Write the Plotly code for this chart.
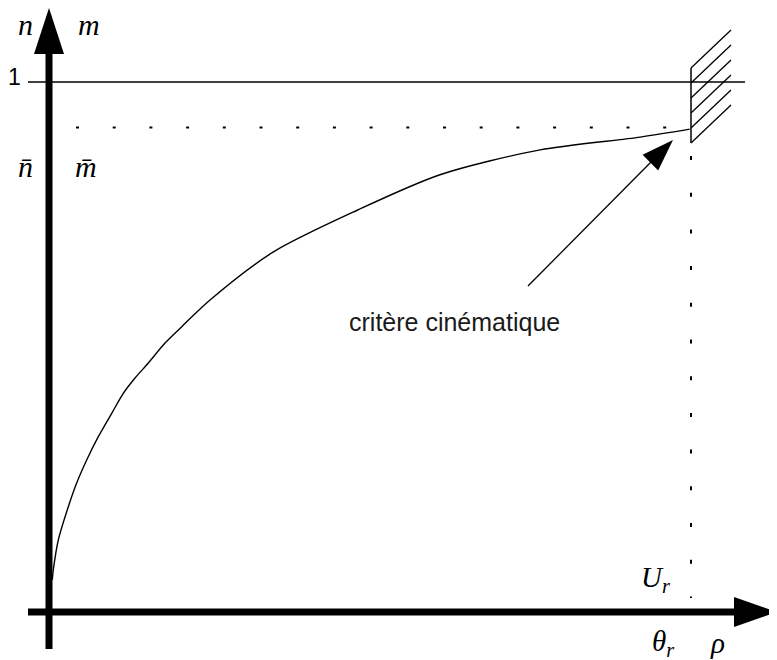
import plotly.graph_objects as go

# curve: criterion in normalised units (theta / theta_r, n)
theta = [0.0051, 0.0067, 0.0145, 0.0301, 0.0431, 0.0587, 0.0768, 0.0977, 0.1157,
         0.1340, 0.1547, 0.1807, 0.2067, 0.2508, 0.349, 0.480, 0.609, 0.765,
         0.921, 0.998]
n_curve = [0.0604, 0.0792, 0.1358, 0.1987, 0.2434, 0.2868, 0.3308, 0.3749, 0.4126,
           0.4415, 0.4698, 0.5075, 0.5383, 0.5887, 0.679, 0.758, 0.825, 0.872,
           0.896, 0.911]

n_bar = 0.914
theta_r = 1.0
label_text = 'critère cinématique'

# pixel scale of one unit on each axis
PX_X = 642.0
PX_Y = 530.0
# the page body adds 8px around the figure
PAGE = 8


def px(dx, dy):
    return dx / PX_X, dy / PX_Y


def head_path(tip_x, tip_y, ux, uy, length, width):
    # ux, uy : unit direction in pixels (y up)
    bx, by = tip_x - px(ux * length, 0)[0], tip_y - px(0, uy * length)[1]
    wx, wy = px(-uy * width / 2, ux * width / 2)
    return (f"M {tip_x} {tip_y} L {bx + wx} {by + wy} "
            f"L {bx - wx} {by - wy} Z")


fig = go.Figure()

fig.add_trace(go.Scatter(x=theta, y=n_curve, mode='lines', line_shape='spline',
                         line=dict(color='black', width=1.4, smoothing=0.8),
                         hoverinfo='skip'))

shapes = []
black = 'black'

# axes
x_lo, x_hi = px(-21, 0)[0], px(686, 0)[0]
y_lo, y_hi = px(0, -37)[1], px(0, 559)[1]
shapes.append(dict(type='line', x0=x_lo, x1=x_hi, y0=0, y1=0,
                   line=dict(color=black, width=7)))
shapes.append(dict(type='line', x0=0, x1=0, y0=y_lo, y1=y_hi,
                   line=dict(color=black, width=7)))
shapes.append(dict(type='path', path=head_path(px(728, 0)[0], 0, 1, 0, 43, 30),
                   fillcolor=black, line=dict(width=0)))
shapes.append(dict(type='path', path=head_path(0, px(0, 604)[1], 0, 1, 46, 30),
                   fillcolor=black, line=dict(width=0)))

# level 1
shapes.append(dict(type='line', x0=x_lo, x1=px(696, 0)[0], y0=1, y1=1,
                   line=dict(color=black, width=1.3)))

# n bar dotted line and theta_r dotted line
shapes.append(dict(type='line', x0=px(27, 0)[0], x1=theta_r, y0=n_bar, y1=n_bar,
                   line=dict(color=black, width=2, dash='3px,33.7px')))
shapes.append(dict(type='line', x0=theta_r, x1=theta_r, y0=px(0, 456)[1], y1=px(0, 14)[1],
                   line=dict(color=black, width=2, dash='4px,32.7px')))

# wall with hatching
wall_top, wall_bot = px(0, 544)[1], px(0, 469)[1]
shapes.append(dict(type='line', x0=theta_r, x1=theta_r, y0=wall_bot, y1=wall_top,
                   line=dict(color=black, width=1.5)))
hx, hy = px(40, 38)
for i in range(6):
    y0 = wall_top - i * px(0, 15)[1]
    shapes.append(dict(type='line', x0=theta_r, x1=theta_r + hx, y0=y0, y1=y0 + hy,
                       line=dict(color=black, width=1.3)))

# annotation arrow
tip_x, tip_y = px(624, 472)
start_x, start_y = px(479, 326)
shapes.append(dict(type='line', x0=start_x, y0=start_y, x1=tip_x - px(20, 0)[0],
                   y1=tip_y - px(0, 20)[1], line=dict(color=black, width=1.3)))
shapes.append(dict(type='path', path=head_path(tip_x, tip_y, 0.707, 0.707, 32, 22),
                   fillcolor=black, line=dict(width=0)))

fig.update_layout(shapes=shapes)

serif = dict(family='Liberation Serif', size=30, color='black')
serif_s = dict(family='Liberation Serif', size=29, color='black')
labels = [
    ('<i>n</i>', -0.036, 1.108, serif),
    ('<i>m</i>', 0.063, 1.108, serif),
    ('<i>n̄</i>', -0.036, 0.841, serif),
    ('<i>m̄</i>', 0.057, 0.841, serif),
    ('<i>U</i><sub><i>r</i></sub>', 0.944, 0.062, serif_s),
    ('<i>θ</i><sub><i>r</i></sub>', 0.957, -0.058, serif_s),
    ('<i>ρ</i>', 1.042, -0.058, serif_s),
    ('1', -0.053, 1.010, dict(family='Liberation Sans', size=23, color='black')),
    (label_text, 0.632, 0.547, dict(family='Liberation Sans', size=25, color='#1a1a1a')),
]
for txt, x, y, f in labels:
    fig.add_annotation(x=x, y=y, text=txt, showarrow=False, font=f,
                       xanchor='center', yanchor='middle')

fig.update_xaxes(range=[(PAGE - 49) / PX_X, 728 / PX_X], visible=False, fixedrange=True)
fig.update_yaxes(range=[-48 / PX_Y, (612 - PAGE) / PX_Y], visible=False, fixedrange=True)
fig.update_layout(width=777 - PAGE, height=660 - PAGE, margin=dict(l=0, r=0, t=0, b=0),
                  paper_bgcolor='white', plot_bgcolor='white', showlegend=False)

fig.write_html('out.html')
